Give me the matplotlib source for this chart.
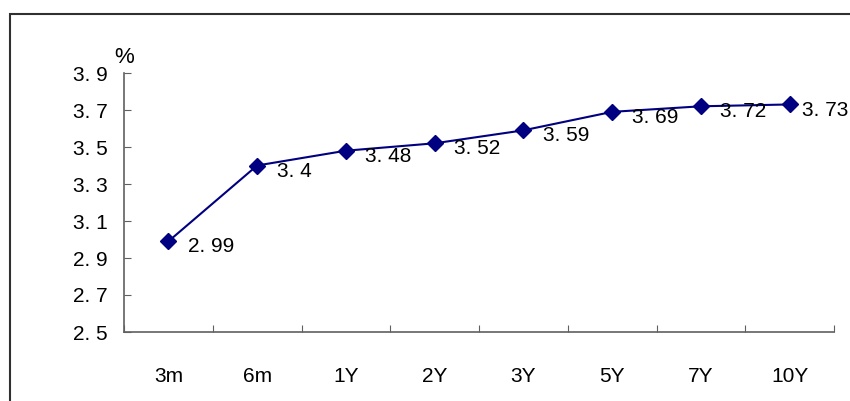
import numpy as np
import matplotlib.pyplot as plt
from matplotlib.patches import Rectangle

# yield curve points
tenors = ['3m', '6m', '1Y', '2Y', '3Y', '5Y', '7Y', '10Y']
rates = [2.99, 3.40, 3.48, 3.52, 3.59, 3.69, 3.72, 3.73]
rate_labels = ['2. 99', '3. 4', '3. 48', '3. 52', '3. 59', '3. 69', '3. 72', '3. 73']
yticks = [2.5, 2.7, 2.9, 3.1, 3.3, 3.5, 3.7, 3.9]
ytick_labels = ['2. 5', '2. 7', '2. 9', '3. 1', '3. 3', '3. 5', '3. 7', '3. 9']

plt.rcParams['font.family'] = ['Liberation Sans', 'DejaVu Sans']

fig = plt.figure(figsize=(8.5, 4.01), dpi=100)
# outer chart frame, runs off the right and bottom edges
fig.patches.append(Rectangle((10 / 850, -0.1), 1.0, (401 - 14) / 401 + 0.1,
                             transform=fig.transFigure, fill=False,
                             edgecolor='#303030', linewidth=1.5))

ax = fig.add_axes([124 / 850, 69 / 401, 710 / 850, 259 / 401])
x = np.arange(len(tenors))
ax.plot(x, rates, color='#000080', linewidth=1.5, marker='D', markersize=8,
        markerfacecolor='#000080', markeredgecolor='#000080')
for i, (xi, yi, lab) in enumerate(zip(x, rates, rate_labels)):
    # last label is nudged in so it stays inside the frame
    dx = 9 if i == len(x) - 1 else 14
    ax.annotate(lab, (xi, yi), xytext=(dx, -4), textcoords='offset points',
                fontsize=15, ha='left', va='center', color='black')

ax.set_xlim(-0.5, len(tenors) - 0.5)
ax.set_ylim(2.5, 3.9)
ax.set_yticks(yticks)
ax.set_yticklabels(ytick_labels, fontsize=15)
ax.set_xticks(np.arange(len(tenors) + 1) - 0.5)
ax.set_xticklabels([])
ax.set_xticks(x, minor=True)
ax.set_xticklabels(tenors, minor=True, fontsize=15)
ax.tick_params(axis='x', which='major', direction='in', length=5, color='#606060')
ax.tick_params(axis='x', which='minor', length=0, pad=25)
ax.tick_params(axis='y', direction='in', length=5, color='#606060', pad=12)

for side in ['top', 'right']:
    ax.spines[side].set_visible(False)
for side in ['left', 'bottom']:
    ax.spines[side].set_color('#606060')
    ax.spines[side].set_linewidth(1.2)

ax.text(0.0, 1.02, '%', transform=ax.transAxes, fontsize=16, ha='center', va='bottom')

fig.savefig('out.png', dpi=100)
